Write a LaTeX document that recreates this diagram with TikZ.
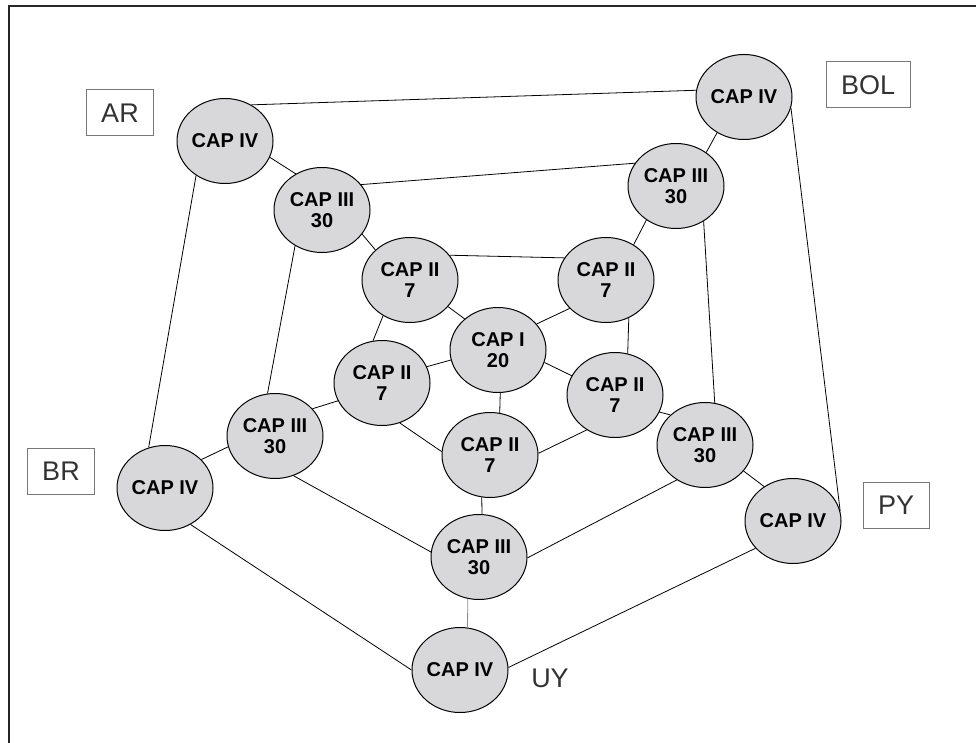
\documentclass[tikz,border=0pt]{standalone}
\usepackage{fontspec}
\setmainfont{Liberation Sans}
\usetikzlibrary{shapes.geometric}
\definecolor{capfill}{RGB}{216,216,218}
\definecolor{boxline}{RGB}{120,120,120}
\tikzset{
  capnode/.style={ellipse, draw=black, line width=1pt, fill=capfill,
    minimum width=96pt, minimum height=85pt, inner sep=0pt, align=center,
    font=\bfseries\fontsize{20}{21}\selectfont},
  country/.style={draw=boxline, line width=1pt, minimum height=46pt,
    inner xsep=15pt, inner ysep=0pt, text=black!80,
    font=\fontsize{27}{30}\selectfont},
  link/.style={draw=black, line width=0.8pt},
}
\begin{document}
\begin{tikzpicture}[x=1pt, y=-1pt]
\useasboundingbox (0,0) rectangle (976,743);
% frame (top and left edges visible)
\draw[line width=2pt, black!85] (9,743) -- (9,6) -- (976,6);

% country labels
\node[country] (lar)  at (120,113) {AR};
\node[country] (lbol) at (868,85)  {BOL};
\node[country] (lbr)  at (61,471)  {BR};
\node[country] (lpy)  at (896,505) {PY};
\node[text=black!80, font=\fontsize{27}{30}\selectfont] (luy) at (550,678) {UY};

% outer ring: CAP IV
\node[capnode] (ar)  at (225,141) {CAP IV};
\node[capnode] (bol) at (744,97)  {CAP IV};
\node[capnode] (br)  at (165,488) {CAP IV};
\node[capnode] (py)  at (793,521) {CAP IV};
\node[capnode] (uy)  at (460,670) {CAP IV};

% middle ring: CAP III
\node[capnode] (t3l) at (322,210) {CAP III\\30};
\node[capnode] (t3r) at (676,186) {CAP III\\30};
\node[capnode] (l3)  at (275,436) {CAP III\\30};
\node[capnode] (r3)  at (705,445) {CAP III\\30};
\node[capnode] (b3)  at (479,557) {CAP III\\30};

% inner ring: CAP II
\node[capnode] (u2l) at (410,280) {CAP II\\7};
\node[capnode] (u2r) at (606,280) {CAP II\\7};
\node[capnode] (l2)  at (382,383) {CAP II\\7};
\node[capnode] (r2)  at (615,395) {CAP II\\7};
\node[capnode] (b2)  at (490,455) {CAP II\\7};

% centre: CAP I
\node[capnode] (c1)  at (498,350) {CAP I\\20};

% outer pentagon
\path[link] (ar.54)   -- (bol.172);
\path[link] (bol.-13) -- (py.12);
\path[link] (ar.230)  -- (br.112);
\path[link] (br.-55)  -- (uy.180);
\path[link] (py.216)  -- (uy.3);

% spokes CAP IV - CAP III
\path[link] (ar.-20)  -- (t3l.126);
\path[link] (bol.233) -- (t3r.48);
\path[link] (l3.193)  -- (br.38);
\path[link] (r3.-34)  -- (py.130);
\path[link, draw=black!45] (b3.255) -- (uy.80);

% middle pentagon
\path[link] (t3l.33)  -- (t3r.151);
\path[link] (t3l.233) -- (l3.100);
\path[link] (t3r.-52) -- (r3.77);
\path[link] (l3.-65)  -- (b3.174);
\path[link] (r3.231)  -- (b3.-1);

% spokes CAP III - CAP II
\path[link] (t3l.-31) -- (u2l.139);
\path[link] (t3r.229) -- (u2r.52);
\path[link] (l2.202)  -- (l3.36);
\path[link] (r2.-21)  -- (r3.139);
\path[link] (b2.259)  -- (b3.86);

% inner pentagon
\path[link] (u2l.32)  -- (u2r.152);
\path[link] (u2l.233) -- (l2.102);
\path[link] (u2r.-59) -- (r2.73);
\path[link] (l2.-66)  -- (b2.176);
\path[link] (r2.231)  -- (b2.2);

% spokes CAP I - CAP II
\path[link] (u2l.-35) -- (c1.137);
\path[link] (u2r.218) -- (c1.34);
\path[link] (c1.192)  -- (l2.20);
\path[link] (c1.-15)  -- (r2.156);
\path[link] (c1.-87)  -- (b2.77);
\end{tikzpicture}
\end{document}
